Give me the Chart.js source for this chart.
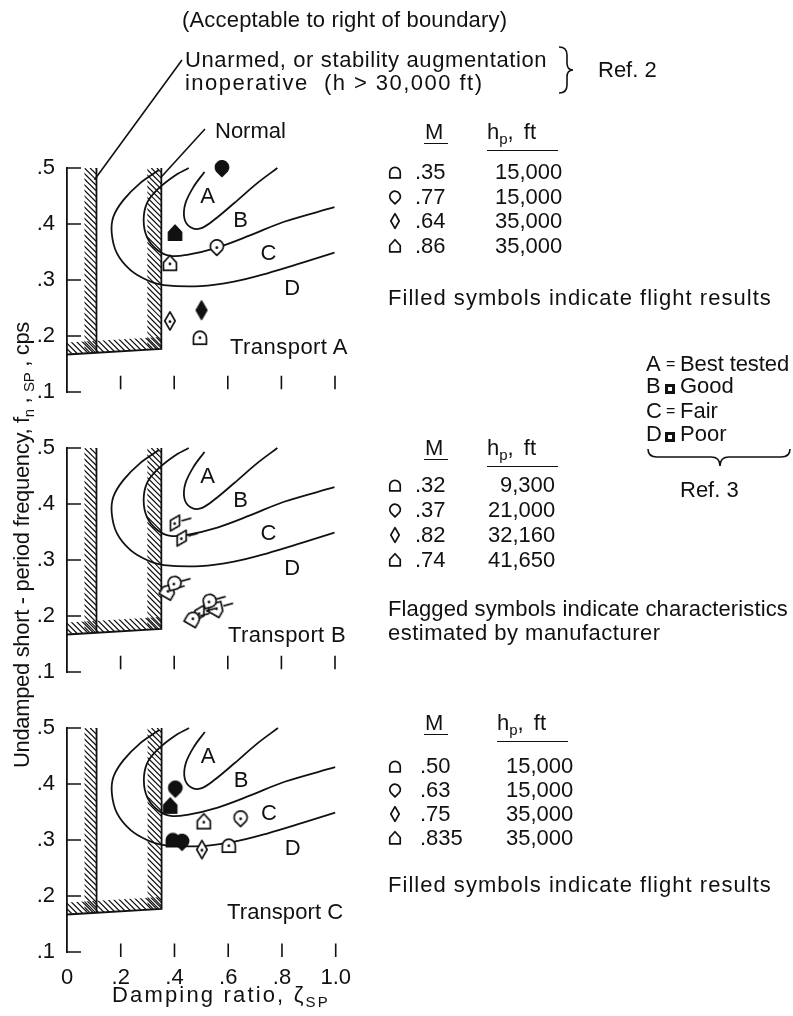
<!DOCTYPE html>
<html>
<head>
<meta charset="utf-8">
<title>Short-period frequency vs damping ratio</title>
<script src="https://cdn.jsdelivr.net/npm/chart.js@4.4.1/dist/chart.umd.min.js"></script>
<style>
  html, body { margin: 0; background: #fff; }
  #page { position: relative; width: 793px; height: 1016px; overflow: hidden;
          font-family: 'Liberation Sans', Arial, sans-serif; font-size: 22px; color: #111; }
  #page canvas { position: absolute; left: 0; }
  .t { position: absolute; white-space: nowrap; line-height: 22px; }
  .rule { position: absolute; height: 0; border-top: 1.6px solid #111; }
  .box { display: inline-block; width: 10px; height: 10px; border: 3px solid #111; box-sizing: border-box; }
  .eq { font-size: 16px; position: relative; top: -2px; }
  sub { font-size: 15px; line-height: 0; vertical-align: -5px; }
</style>
</head>
<body>
<div id="page">
  <canvas id="chartA" width="360" height="422" style="top:0"></canvas>
  <canvas id="chartB" width="360" height="292" style="top:410px"></canvas>
  <canvas id="chartC" width="364" height="326" style="top:690px"></canvas>
  <svg width="793" height="1016" style="position:absolute;left:0;top:0;pointer-events:none">
    <!-- brace grouping the two Ref. 2 boundaries -->
    <path d="M559 47 Q567 47 567 55 L567 63 Q567 70 573 70 Q567 70 567 77 L567 85 Q567 93 559 93"
          fill="none" stroke="#111" stroke-width="1.6"/>
    <!-- brace under the Ref. 3 ratings -->
    <path d="M648 449 Q648 457 657 457 L711 457 Q720 457 720 466 Q720 457 729 457 L781 457 Q790 457 790 449"
          fill="none" stroke="#111" stroke-width="1.6"/>
  </svg>
</div>
<script>
// ---------- axes ----------
const zetaTicks = [0.2, 0.4, 0.6, 0.8, 1.0];
const freqTicks = [0.1, 0.2, 0.3, 0.4, 0.5];

// ---------- Ref. 2 boundaries (acceptable to the right) ----------
const unarmedBoundary = [[0.11, 0.5], [0.11, 0.170]];
const normalBoundary = [[0, 0.167], [0.352, 0.177], [0.352, 0.5]];

// ---------- Ref. 3 rating boundaries ----------
const curveAB = [[0.513, 0.493], [0.473, 0.467], [0.442, 0.437], [0.438, 0.410], [0.461, 0.394],
                 [0.498, 0.392], [0.548, 0.407], [0.623, 0.437], [0.710, 0.473], [0.785, 0.500]];
const curveBC = [[0.454, 0.500], [0.398, 0.485], [0.336, 0.461], [0.298, 0.437], [0.286, 0.407],
                 [0.298, 0.377], [0.336, 0.354], [0.386, 0.343], [0.448, 0.345], [0.561, 0.358],
                 [0.685, 0.380], [0.810, 0.404], [0.998, 0.430]];
const curveCD = [[0.342, 0.496], [0.273, 0.473], [0.211, 0.443], [0.173, 0.413], [0.167, 0.383],
                 [0.186, 0.348], [0.236, 0.318], [0.298, 0.300], [0.361, 0.291], [0.498, 0.289],
                 [0.623, 0.297], [0.748, 0.312], [0.873, 0.330], [0.998, 0.349]];

const regionNames = ['A', 'B', 'C', 'D'];
const regionZeta = [0.525, 0.648, 0.752, 0.840];
const regionFreq = [0.448, 0.406, 0.347, 0.284];

// ---------- Transport A ----------
const machA = ['.35', '.77', '.64', '.86'];
const altA = ['15,000', '15,000', '35,000', '35,000'];
const zetaA = [0.578, 0.403, 0.559, 0.384, 0.384, 0.502, 0.496];
const freqA = [0.500, 0.384, 0.359, 0.330, 0.227, 0.246, 0.198];
const caseA = [1, 3, 1, 3, 2, 2, 0];
const flightA = [1, 1, 0, 0, 0, 1, 0];

// ---------- Transport B (manufacturer estimates) ----------
const machB = ['.32', '.37', '.82', '.74'];
const altB = ['9,300', '21,000', '32,160', '41,650'];
const zetaB = [0.403, 0.428, 0.378, 0.400, 0.471, 0.494, 0.531, 0.559];
const freqB = [0.366, 0.339, 0.245, 0.258, 0.196, 0.205, 0.226, 0.214];
const caseB = [2, 2, 3, 1, 0, 2, 1, 3];
const flightB = [0, 0, 0, 0, 0, 0, 0, 0];

// ---------- Transport C ----------
const machC = ['.50', '.63', '.75', '.835'];
const altC = ['15,000', '15,000', '35,000', '35,000'];
const zetaC = [0.403, 0.384, 0.394, 0.428, 0.509, 0.646, 0.502, 0.602];
const freqC = [0.392, 0.361, 0.301, 0.297, 0.333, 0.339, 0.283, 0.291];
const caseC = [1, 3, 0, 1, 3, 1, 2, 0];
const flightC = [1, 1, 1, 1, 0, 0, 0, 0];

// one marker shape per legend row
const shapes = ['arch', 'drop', 'diamond', 'house'];

const FONT = "'Liberation Sans', Arial, sans-serif";
const INK = '#111';
Chart.defaults.font.family = FONT;
Chart.defaults.font.size = 22;
Chart.defaults.color = INK;

// ---------- marker images ----------
function shapePath(ctx, shape) {
  ctx.beginPath();
  if (shape === 'arch') {
    ctx.moveTo(-5, 5.5); ctx.lineTo(-5, 0.5);
    ctx.arc(0, 0.5, 5, Math.PI, 0);
    ctx.lineTo(5, 5.5);
  } else if (shape === 'drop') {
    ctx.moveTo(0, 6.5);
    ctx.arc(0, -0.5, 5, 0.8 * Math.PI, 0.2 * Math.PI);
  } else if (shape === 'diamond') {
    ctx.moveTo(0, -7); ctx.lineTo(4, 0); ctx.lineTo(0, 7); ctx.lineTo(-4, 0);
  } else {
    ctx.moveTo(-5, 5.5); ctx.lineTo(-5, -0.5); ctx.lineTo(0, -6); ctx.lineTo(5, -0.5); ctx.lineTo(5, 5.5);
  }
  ctx.closePath();
}

function marker(shape, { filled = false, flagged = false, dot = true, scale = 1.3 } = {}) {
  const c = document.createElement('canvas');
  c.width = c.height = 36;
  const ctx = c.getContext('2d');
  ctx.translate(18, 18);
  ctx.scale(scale, scale);
  ctx.lineWidth = 1.7 / scale;
  ctx.lineJoin = 'round';
  ctx.strokeStyle = INK;
  shapePath(ctx, shape);
  ctx.fillStyle = filled ? INK : '#fff';
  ctx.fill();
  ctx.stroke();
  if (!filled && dot) {
    ctx.beginPath();
    ctx.arc(0, 0.5, 1.1, 0, 2 * Math.PI);
    ctx.fillStyle = INK;
    ctx.fill();
  }
  if (flagged) {
    ctx.beginPath();
    ctx.moveTo(3.5, -4);
    ctx.lineTo(9, -9.5);
    ctx.stroke();
  }
  return c;
}

// ---------- hatching ----------
function hatch(ctx, poly) {
  ctx.save();
  ctx.beginPath();
  poly.forEach(([px, py], i) => (i ? ctx.lineTo(px, py) : ctx.moveTo(px, py)));
  ctx.closePath();
  ctx.clip();
  const xs = poly.map(p => p[0]), ys = poly.map(p => p[1]);
  const left = Math.min(...xs), right = Math.max(...xs);
  const top = Math.min(...ys), bottom = Math.max(...ys);
  const h = bottom - top;
  ctx.beginPath();
  for (let px = left - h; px <= right + 1; px += 5.6) {
    ctx.moveTo(px, top);
    ctx.lineTo(px + h, bottom);
  }
  ctx.lineWidth = 1.2;
  ctx.strokeStyle = INK;
  ctx.stroke();
  ctx.restore();
}

// frame, hatching, inward ticks, leaders and region letters
const framePlugin = {
  id: 'frame',
  beforeDatasetsDraw(chart, args, opts) {
    const { ctx } = chart;
    const X = v => chart.scales.x.getPixelForValue(v);
    const Y = v => chart.scales.y.getPixelForValue(v);

    const ux = X(unarmedBoundary[0][0]);
    const uTop = Y(unarmedBoundary[0][1]), uBot = Y(unarmedBoundary[1][1]);
    hatch(ctx, [[ux - 12, uTop], [ux, uTop], [ux, uBot], [ux - 12, uBot]]);

    const [b0, b1, b2] = normalBoundary;
    const nx = X(b1[0]);
    hatch(ctx, [[nx - 14, Y(b2[1])], [nx, Y(b2[1])], [nx, Y(b1[1])], [nx - 14, Y(b1[1])]]);
    hatch(ctx, [[X(b0[0]), Y(b0[1])], [X(b1[0]), Y(b1[1])], [X(b1[0]), Y(b1[1]) - 12], [X(b0[0]), Y(b0[1]) - 12]]);

    ctx.save();
    ctx.strokeStyle = INK;
    ctx.lineWidth = 1.6;
    ctx.beginPath();
    freqTicks.forEach(v => { ctx.moveTo(X(0), Y(v)); ctx.lineTo(X(0) + 14, Y(v)); });
    zetaTicks.forEach(v => { ctx.moveTo(X(v), Y(opts.tickLow)); ctx.lineTo(X(v), Y(opts.tickLow + 0.024)); });
    if (opts.leaders) {
      ctx.moveTo(X(unarmedBoundary[0][0]) - 2, Y(0.479)); ctx.lineTo(182, 60);
      ctx.moveTo(X(b2[0]) - 1, Y(0.482)); ctx.lineTo(205, 129);
    }
    ctx.stroke();
    ctx.restore();
  },
  afterDatasetsDraw(chart) {
    const { ctx } = chart;
    ctx.save();
    ctx.font = `22px ${FONT}`;
    ctx.fillStyle = INK;
    ctx.textAlign = 'center';
    ctx.textBaseline = 'middle';
    regionNames.forEach((n, i) => {
      ctx.fillText(n, chart.scales.x.getPixelForValue(regionZeta[i]), chart.scales.y.getPixelForValue(regionFreq[i]));
    });
    ctx.restore();
  }
};

const pairs = arr => arr.map(([x, y]) => ({ x, y }));
const lineSet = (data, tension) => ({
  data: pairs(data), showLine: true, tension, pointRadius: 0,
  borderColor: INK, borderWidth: 1.8, fill: false
});

function panelDatasets(zeta, freq, kind, flight, flagged) {
  const sets = [];
  shapes.forEach((shape, k) => {
    [1, 0].forEach(f => {
      const pts = zeta.map((z, i) => ({ x: z, y: freq[i], k: kind[i], f: flight[i] }))
        .filter(p => p.k === k && p.f === f);
      if (!pts.length) return;
      sets.push({
        data: pts,
        pointStyle: marker(shape, { filled: !!f, flagged }),
        pointRadius: 7,
        pointRotation: flagged ? 30 : 0,
        showLine: false
      });
    });
  });
  return sets;
}

// the band under the plot holds the ζ labels on the bottom panel only
function makePanel(id, zeta, freq, kind, flight, flagged, layout) {
  const datasets = [
    ...panelDatasets(zeta, freq, kind, flight, flagged),
    lineSet(curveAB, 0.35), lineSet(curveBC, 0.35), lineSet(curveCD, 0.35),
    lineSet(unarmedBoundary, 0), lineSet(normalBoundary, 0)
  ];
  return new Chart(document.getElementById(id), {
    type: 'scatter',
    data: { datasets },
    options: {
      responsive: false,
      animation: false,
      events: [],
      clip: false,
      layout: { padding: { top: layout.top, right: 25, bottom: layout.bottom, left: 0 } },
      plugins: {
        legend: { display: false }, tooltip: { enabled: false },
        frame: { leaders: layout.leaders, tickLow: layout.tickLow }
      },
      scales: {
        x: {
          type: 'linear', min: 0, max: 1,
          display: layout.xLabels,
          afterFit: s => { s.height = layout.band; },
          grid: { display: false, drawTicks: false },
          border: { display: false },
          ticks: {
            stepSize: 0.2, padding: 13, maxRotation: 0, autoSkip: false,
            callback: v => (v === 0 ? '0' : Math.abs(v - 1) < 1e-6 ? '1.0' : '.' + Math.round(v * 10))
          }
        },
        y: {
          type: 'linear', min: 0.1, max: 0.5,
          afterFit: s => { s.width = 67; },
          grid: { display: false, drawTicks: false },
          border: { display: true, color: INK, width: 1.8 },
          ticks: { stepSize: 0.1, padding: 12, callback: v => '.' + Math.round(v * 10) }
        }
      }
    },
    plugins: [framePlugin]
  });
}

makePanel('chartA', zetaA, freqA, caseA, flightA, false,
  { top: 168, bottom: 0, band: 30, leaders: true, xLabels: false, tickLow: 0.105 });
makePanel('chartB', zetaB, freqB, caseB, flightB, true,
  { top: 38, bottom: 0, band: 30, leaders: false, xLabels: false, tickLow: 0.105 });
makePanel('chartC', zetaC, freqC, caseC, flightC, false,
  { top: 38, bottom: 24, band: 40, leaders: false, xLabels: true, tickLow: 0.091 });

// ---------- text around the plots ----------
const page = document.getElementById('page');

function put(html, left, cy, width, extra = '') {
  const el = document.createElement('div');
  el.className = 't';
  el.innerHTML = html;
  el.style.cssText += `left:${left}px;top:${cy - 11}px;${extra}`;
  page.appendChild(el);
  if (width) {
    const n = el.textContent.length;
    el.style.letterSpacing = ((width - el.offsetWidth) / n) + 'px';
  }
  return el;
}
function putRight(html, right, cy) {
  const el = put(html, 0, cy);
  el.style.left = (right - el.offsetWidth) + 'px';
  return el;
}
function rule(left, top, width) {
  const el = document.createElement('div');
  el.className = 'rule';
  el.style.cssText += `left:${left}px;top:${top}px;width:${width}px`;
  page.appendChild(el);
}
function legendMarker(shape, cx, cy) {
  const c = marker(shape, { dot: false, scale: 1.05 });
  c.style.left = (cx - 18) + 'px';
  c.style.top = (cy - 18) + 'px';
  page.appendChild(c);
}

put('(Acceptable to right of boundary)', 182, 20, 325);
put('Unarmed, or stability augmentation', 185, 60, 362);
put('inoperative&nbsp; (h &gt; 30,000 ft)', 185, 83, 298);
put('Ref. 2', 598, 70);
put('Normal', 215, 131);

function legendTable(mach, alt, o) {
  put('M', 425, o.head);
  rule(424, o.head + 11, 24);
  put('h<sub>p</sub>, ft', o.hpLeft, o.head, 0, 'word-spacing:4px');
  rule(o.hpLeft, o.head + 18, 71);
  mach.forEach((m, i) => {
    const cy = o.row + i * o.step;
    legendMarker(shapes[i], 395, cy);
    put(m, o.machLeft, cy);
    putRight(alt[i], o.altRight, cy);
  });
}

legendTable(machA, altA, { head: 132, row: 172, step: 24.7, hpLeft: 487, machLeft: 415, altRight: 562 });
put('Filled symbols indicate flight results', 388, 298, 384);
put('Transport A', 230, 347, 118);

legendTable(machB, altB, { head: 448, row: 485, step: 25, hpLeft: 487, machLeft: 415, altRight: 555 });
put('Flagged symbols indicate characteristics', 388, 609, 400);
put('estimated by manufacturer', 388, 633, 272);
put('Transport B', 228, 635, 118);

legendTable(machC, altC, { head: 723, row: 766, step: 24, hpLeft: 497, machLeft: 420, altRight: 573 });
put('Filled symbols indicate flight results', 388, 885, 384);
put('Transport C', 227, 912, 116);

// rating key (Ref. 3)
const ratingLetters = ['A', 'B', 'C', 'D'];
const ratingWords = ['Best tested', 'Good', 'Fair', 'Poor'];
const ratingRows = [364, 386, 411, 434];
ratingLetters.forEach((l, i) => {
  put(l, 646, ratingRows[i]);
  if (i % 2 === 0) put('<span class="eq">=</span>', 666, ratingRows[i]);
  else put('<span class="box"></span>', 665, ratingRows[i] + 1);
  put(ratingWords[i], 680, ratingRows[i], i === 0 ? 109 : 0);
});
put('Ref. 3', 680, 490);

// axis titles
put('Damping ratio, &zeta;<sub>SP</sub>', 112, 995, 218);
const yt = put('Undamped short - period frequency, f<sub>n</sub> , <sub>SP</sub> , cps', 0, 0, 446);
yt.style.left = (22 - yt.offsetWidth / 2) + 'px';
yt.style.top = (545 - yt.offsetHeight / 2) + 'px';
yt.style.transform = 'rotate(-90deg)';
</script>
</body>
</html>
